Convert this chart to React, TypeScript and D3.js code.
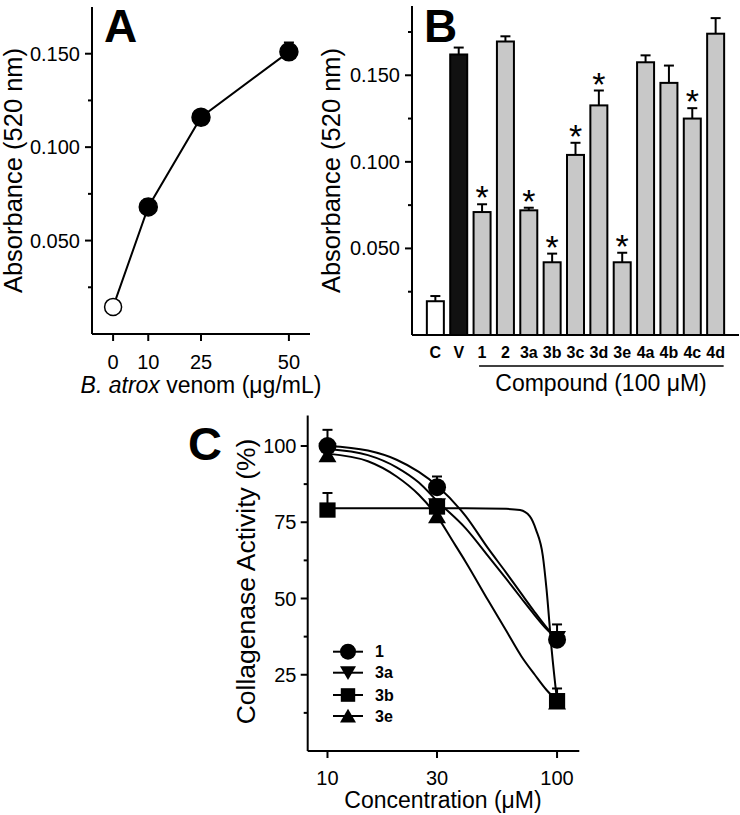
import React from "react";
import * as d3 from "d3";

// ---------- Panel A data ----------
const A_conc = [0, 10, 25, 50];
const A_abs = [0.0145, 0.068, 0.116, 0.151];
const A_err = [0.002, 0.004, 0.003, 0.005];
const A_yMajor = [0.05, 0.1, 0.15];
const A_yMinor = [0.025, 0.075, 0.125];
const A_xTicks = [0, 10, 25, 50];

// ---------- Panel B data ----------
const B_labels = ["C", "V", "1", "2", "3a", "3b", "3c", "3d", "3e", "4a", "4b", "4c", "4d"];
const B_values = [0.0195, 0.162, 0.071, 0.1695, 0.072, 0.042, 0.104, 0.1326, 0.042, 0.1575, 0.1456, 0.125, 0.174];
const B_errors = [0.003, 0.004, 0.0045, 0.003, 0.0015, 0.005, 0.007, 0.0086, 0.0055, 0.004, 0.01, 0.006, 0.009];
const B_signif = [false, false, true, false, true, true, true, true, true, false, false, true, false];
const B_fill = ["#ffffff", "#111111", "#c8c8c8", "#c8c8c8", "#c8c8c8", "#c8c8c8", "#c8c8c8", "#c8c8c8", "#c8c8c8", "#c8c8c8", "#c8c8c8", "#c8c8c8", "#c8c8c8"];
const B_yMajor = [0.05, 0.1, 0.15];
const B_yMinor = [0.025, 0.075, 0.125, 0.175];

// ---------- Panel C data ----------
const C_conc = [10, 30, 100];
const C_series = ["1", "3a", "3b", "3e"];
const C_symbols = ["circle", "triangleDown", "square", "triangleUp"];
const C_mean_1 = [100, 86.5, 36.5];
const C_err_1 = [5.3, 3.5, 5];
const C_mean_3a = [98.5, 80.5, 37];
const C_err_3a = [2, 2, 2];
const C_mean_3b = [79, 80, 16.5];
const C_err_3b = [5.6, 2, 4];
const C_mean_3e = [97, 77, 16];
const C_err_3e = [2, 2, 2];
// fitted curves as (concentration, activity)
const C_fit_1: [number, number][] = [[10, 100], [15, 98.5], [20, 95.5], [25, 91.5], [30, 87], [40, 77], [50, 66.5], [60, 58.5], [70, 51.5], [80, 45.5], [90, 40.5], [100, 36.5]];
const C_fit_3a: [number, number][] = [[10, 99], [15, 97], [20, 93], [25, 88], [30, 82], [40, 73], [50, 64], [60, 56.5], [70, 50], [80, 44.5], [90, 40], [100, 37]];
const C_fit_3b: [number, number][] = [[10, 79.6], [40, 79.6], [60, 79.4], [69, 79], [76, 77], [81, 72.5], [86.7, 64], [90, 53], [94.8, 33], [100, 16.5]];
const C_fit_3e: [number, number][] = [[10, 97.5], [15, 95], [20, 90], [25, 84], [30, 77], [35, 69], [40, 62], [50, 49.5], [60, 39.5], [70, 31], [80, 25], [90, 20], [100, 16.5]];
const C_yMajor = [25, 50, 75, 100];
const C_yMinor = [12.5, 37.5, 62.5, 87.5];
const C_xTicks = [10, 30, 100];

const FONT = "'Liberation Sans', Arial, Helvetica, sans-serif";
const SW = 2;

function fmt3(v: number) {
  return v.toFixed(3);
}

function ErrorBar({ x, y0, y1, w = 10 }: { x: number; y0: number; y1: number; w?: number }) {
  return (
    <g stroke="#000" strokeWidth={SW}>
      <line x1={x} x2={x} y1={y0} y2={y1} />
      <line x1={x - w / 2} x2={x + w / 2} y1={y1} y2={y1} />
    </g>
  );
}

function PanelA() {
  const x = d3.scaleLinear().domain([-6, 56]).range([92, 310]);
  const y = d3.scaleLinear().domain([0, 0.175]).range([334, 7]);
  const line = d3.line<number>().x((_, i) => x(A_conc[i])).y((d) => y(d));
  return (
    <g fontFamily={FONT}>
      <text x={104} y={42} fontSize={46} fontWeight="bold">A</text>
      <line x1={x.range()[0]} x2={x.range()[0]} y1={y.range()[1]} y2={y.range()[0]} stroke="#000" strokeWidth={SW} />
      <line x1={x.range()[0]} x2={x.range()[1]} y1={y.range()[0]} y2={y.range()[0]} stroke="#000" strokeWidth={SW} />
      {A_yMajor.map((t) => (
        <g key={"ma" + t}>
          <line x1={x.range()[0] - 7} x2={x.range()[0]} y1={y(t)} y2={y(t)} stroke="#000" strokeWidth={SW} />
          <text x={80} y={y(t)} fontSize={20} textAnchor="end" dominantBaseline="central">{fmt3(t)}</text>
        </g>
      ))}
      {A_yMinor.map((t) => (
        <line key={"mi" + t} x1={x.range()[0] - 4} x2={x.range()[0]} y1={y(t)} y2={y(t)} stroke="#000" strokeWidth={SW} />
      ))}
      {A_xTicks.map((t) => (
        <g key={"xt" + t}>
          <line x1={x(t)} x2={x(t)} y1={y.range()[0]} y2={y.range()[0] + 7} stroke="#000" strokeWidth={SW} />
          <text x={x(t)} y={369} fontSize={20} textAnchor="middle">{t}</text>
        </g>
      ))}
      <text x={201} y={393} fontSize={23} textAnchor="middle">
        <tspan fontStyle="italic">B. atrox</tspan> venom (μg/mL)
      </text>
      <text transform={`translate(13,170.5) rotate(-90)`} fontSize={25.5} textAnchor="middle" dominantBaseline="central">Absorbance (520 nm)</text>
      <path d={line(A_abs) || ""} fill="none" stroke="#000" strokeWidth={2} />
      {A_abs.map((v, i) => (
        <ErrorBar key={"e" + i} x={x(A_conc[i])} y0={y(v)} y1={y(v + A_err[i])} w={10} />
      ))}
      {A_abs.map((v, i) => (
        <circle key={"c" + i} cx={x(A_conc[i])} cy={y(v)} r={i === 0 ? 8.5 : 9} fill={i === 0 ? "#fff" : "#000"} stroke="#000" strokeWidth={1.5} />
      ))}
    </g>
  );
}

function PanelB() {
  const x = d3.scalePoint<string>().domain(B_labels).range([412, 739]).padding(1);
  const y = d3.scaleLinear().domain([0, 0.19]).range([335, 6]);
  const bw = 17;
  const x0 = 412;
  return (
    <g fontFamily={FONT}>
      <text x={424} y={42} fontSize={46} fontWeight="bold">B</text>
      <line x1={x0} x2={x0} y1={y.range()[1]} y2={y.range()[0]} stroke="#000" strokeWidth={SW} />
      <line x1={x0} x2={739} y1={y.range()[0]} y2={y.range()[0]} stroke="#000" strokeWidth={SW} />
      {B_yMajor.map((t) => (
        <g key={"ma" + t}>
          <line x1={x0 - 7} x2={x0} y1={y(t)} y2={y(t)} stroke="#000" strokeWidth={SW} />
          <text x={400} y={y(t)} fontSize={20} textAnchor="end" dominantBaseline="central">{fmt3(t)}</text>
        </g>
      ))}
      {B_yMinor.map((t) => (
        <line key={"mi" + t} x1={x0 - 4} x2={x0} y1={y(t)} y2={y(t)} stroke="#000" strokeWidth={SW} />
      ))}
      {B_labels.map((lab, i) => {
        const cx = x(lab) as number;
        const top = y(B_values[i]);
        const capY = y(B_values[i] + B_errors[i]);
        return (
          <g key={lab}>
            <ErrorBar x={cx} y0={top} y1={capY} w={10} />
            <rect x={cx - bw / 2} y={top} width={bw} height={y(0) - top} fill={B_fill[i]} stroke="#000" strokeWidth={SW} />
            {B_signif[i] && (
              <text x={cx} y={capY + 5} fontSize={34} textAnchor="middle">*</text>
            )}
            <text x={cx} y={358} fontSize={16} fontWeight="bold" textAnchor="middle">{lab}</text>
          </g>
        );
      })}
      <line x1={(x("1") as number) - 3} x2={(x("4d") as number) + 8} y1={366} y2={366} stroke="#000" strokeWidth={1.5} />
      <text x={601} y={391} fontSize={23} textAnchor="middle">Compound (100 μM)</text>
      <text transform={`translate(331,170.5) rotate(-90)`} fontSize={25.5} textAnchor="middle" dominantBaseline="central">Absorbance (520 nm)</text>
    </g>
  );
}

function Marker({ kind, cx, cy, s = 9 }: { kind: string; cx: number; cy: number; s?: number }) {
  if (kind === "circle") return <circle cx={cx} cy={cy} r={s} fill="#000" />;
  if (kind === "square") return <rect x={cx - s * 0.9} y={cy - s * 0.85} width={s * 1.8} height={s * 1.7} fill="#000" />;
  if (kind === "triangleDown")
    return <path d={`M${cx - s},${cy - s * 0.8} L${cx + s},${cy - s * 0.8} L${cx},${cy + s * 0.9} Z`} fill="#000" />;
  return <path d={`M${cx - s},${cy + s * 0.8} L${cx + s},${cy + s * 0.8} L${cx},${cy - s * 0.9} Z`} fill="#000" />;
}

function PanelC() {
  const x = d3.scaleLog().domain([8.2, 125]).range([307.7, 579.3]);
  const y = d3.scaleLinear().domain([0, 110]).range([751, 415.5]);
  const x0 = 307.7;
  const line = d3
    .line<[number, number]>()
    .x((d) => x(d[0]))
    .y((d) => y(d[1]))
    .curve(d3.curveMonotoneX);
  const means = [C_mean_1, C_mean_3a, C_mean_3b, C_mean_3e];
  const errs = [C_err_1, C_err_3a, C_err_3b, C_err_3e];
  const fits = [C_fit_1, C_fit_3a, C_fit_3b, C_fit_3e];
  const legendY = [651.7, 672.7, 695, 716];
  return (
    <g fontFamily={FONT}>
      <text x={188} y={460} fontSize={47} fontWeight="bold">C</text>
      <line x1={x0} x2={x0} y1={y.range()[1]} y2={y.range()[0]} stroke="#000" strokeWidth={SW} />
      <line x1={x0} x2={x.range()[1]} y1={y.range()[0]} y2={y.range()[0]} stroke="#000" strokeWidth={SW} />
      {C_yMajor.map((t) => (
        <g key={"ma" + t}>
          <line x1={x0 - 7} x2={x0} y1={y(t)} y2={y(t)} stroke="#000" strokeWidth={SW} />
          <text x={296.5} y={y(t)} fontSize={20} textAnchor="end" dominantBaseline="central">{t}</text>
        </g>
      ))}
      {C_yMinor.map((t) => (
        <line key={"mi" + t} x1={x0 - 4} x2={x0} y1={y(t)} y2={y(t)} stroke="#000" strokeWidth={SW} />
      ))}
      {C_xTicks.map((t) => (
        <g key={"xt" + t}>
          <line x1={x(t)} x2={x(t)} y1={y.range()[0]} y2={y.range()[0] + 7} stroke="#000" strokeWidth={SW} />
          <text x={x(t)} y={785} fontSize={20} textAnchor="middle">{t}</text>
        </g>
      ))}
      <text x={443} y={808} fontSize={23} textAnchor="middle">Concentration (μM)</text>
      <text transform={`translate(246,581.5) rotate(-90)`} fontSize={26.5} textAnchor="middle" dominantBaseline="central">Collagenase Activity (%)</text>
      {fits.map((f, k) => (
        <path key={"f" + k} d={line(f) || ""} fill="none" stroke="#000" strokeWidth={2} />
      ))}
      {means.map((m, k) =>
        m.map((v, i) => (
          <ErrorBar key={"e" + k + i} x={x(C_conc[i])} y0={y(v)} y1={y(v + errs[k][i])} w={10} />
        ))
      )}
      {means.map((m, k) =>
        m.map((v, i) => <Marker key={"m" + k + i} kind={C_symbols[k]} cx={x(C_conc[i])} cy={y(v)} />)
      )}
      {C_series.map((s, k) => (
        <g key={"lg" + s}>
          <line x1={333} x2={363} y1={legendY[k]} y2={legendY[k]} stroke="#000" strokeWidth={2} />
          <Marker kind={C_symbols[k]} cx={348} cy={legendY[k]} s={8} />
          <text x={375} y={legendY[k]} fontSize={16} fontWeight="bold" dominantBaseline="central">{s}</text>
        </g>
      ))}
    </g>
  );
}

export default function App() {
  return (
    <svg
      width={740}
      height={815}
      viewBox="0 0 740 815"
      style={{ position: "absolute", left: 0, top: 0, display: "block", background: "#fff" }}
    >
      <rect width={740} height={815} fill="#fff" />
      <PanelA />
      <PanelB />
      <PanelC />
    </svg>
  );
}
